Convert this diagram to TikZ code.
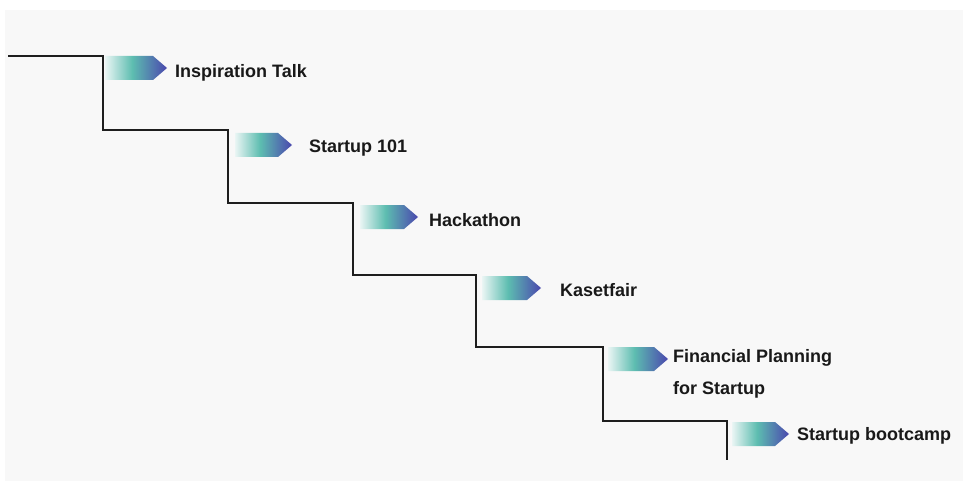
\documentclass[tikz,border=0pt]{standalone}
\usepackage{fontspec}
\setmainfont{Liberation Sans}
\definecolor{bgc}{HTML}{F8F8F8}
\definecolor{stepc}{HTML}{1E1E1E}
\definecolor{gA}{HTML}{EAF5F4}
\definecolor{gB}{HTML}{5DBDB0}
\definecolor{gC}{HTML}{4A47AE}
\pgfdeclarehorizontalshading{tabshade}{100bp}{color(0bp)=(gA); color(25bp)=(gA); color(47bp)=(gB); color(75bp)=(gC); color(100bp)=(gC)}
\tikzset{
  stair/.style={draw=stepc, line width=2pt},
  tab/.style={shading=tabshade},
  lbl/.style={anchor=base west, inner sep=0pt, font=\fontsize{18}{32}\selectfont\bfseries, text=black!90, align=left}
}
\begin{document}
\begin{tikzpicture}[x=1pt,y=-1pt]
\useasboundingbox (0,0) rectangle (963,481);
\fill[white] (0,0) rectangle (963,481);
\fill[bgc] (5,10) rectangle (963,481);
% staircase corners
\coordinate (s0) at (8,56);
\coordinate (a1) at (103,56);  \coordinate (b1) at (103,130);
\coordinate (a2) at (228,130); \coordinate (b2) at (228,203);
\coordinate (a3) at (353,203); \coordinate (b3) at (353,275);
\coordinate (a4) at (476,275); \coordinate (b4) at (476,347);
\coordinate (a5) at (603,347); \coordinate (b5) at (603,421);
\coordinate (a6) at (727,421); \coordinate (e) at (727,460);
\draw[stair] (s0) -- (a1) -- (b1) -- (a2) -- (b2) -- (a3) -- (b3) -- (a4) -- (b4) -- (a5) -- (b5) -- (a6) -- (e);
% tabs: left, top, tip
\foreach \l/\t/\p in {105/56/167, 235/133/292, 360/205/418, 482/276/541, 608/347/668, 732/422/789}{
  \shade[tab] (\l,\t) -- (\p-14,\t) -- (\p,\t+12) -- (\p-14,\t+24) -- (\l,\t+24) -- cycle;
}
\node[lbl] (t1) at (175,78) {Inspiration Talk};
\node[lbl] (t2) at (309,153) {Startup 101};
\node[lbl] (t3) at (429,226) {Hackathon};
\node[lbl] (t4) at (560,296) {Kasetfair};
\node[lbl] (t5) at (673,394) {Financial Planning\\for Startup};
\node[lbl] (t6) at (797,440) {Startup bootcamp};
\end{tikzpicture}
\end{document}
